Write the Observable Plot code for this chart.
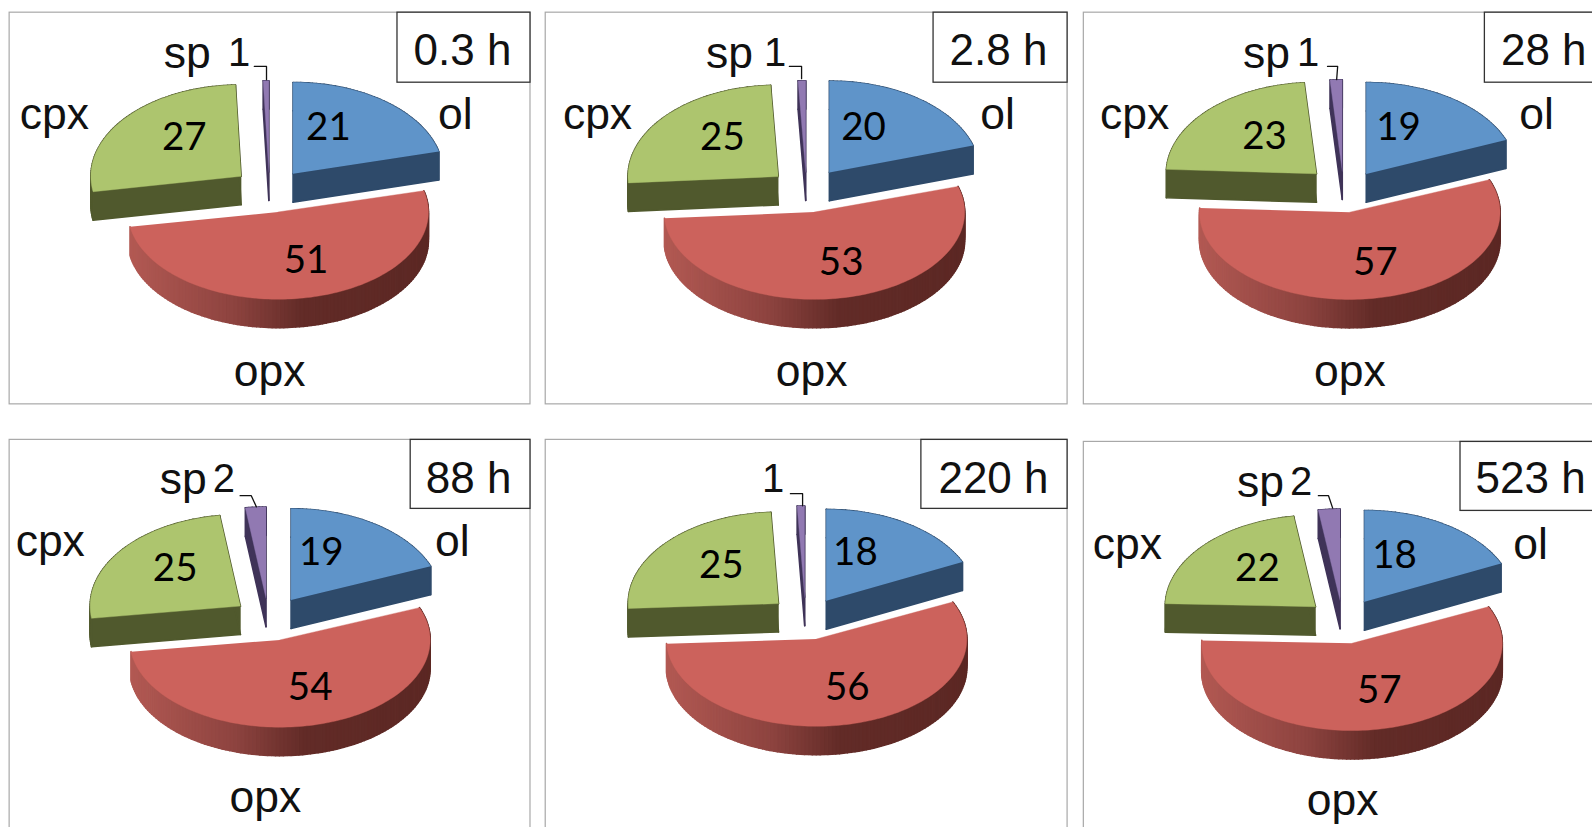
<!DOCTYPE html>
<html><head><meta charset="utf-8">
<script src="https://cdn.jsdelivr.net/npm/d3@7"></script>
<script src="https://cdn.jsdelivr.net/npm/@observablehq/plot@0.6"></script>
<style>html,body{margin:0;background:#fff}svg{display:block}</style>
</head><body><div id="chart"></div>
<script>
// ---- values
const times = ["0.3 h","2.8 h","28 h","88 h","220 h","523 h"];
const phases = ["ol","opx","cpx","sp"];
const ol  = [21,20,19,19,18,18];
const opx = [51,53,57,54,56,57];
const cpx = [27,25,23,25,25,22];
const sp  = [1,1,1,2,1,2];
// spinel shares before rounding, estimated from the width of the drawn slice
const spDrawn = [0.6,0.8,1.3,2.2,0.8,2.3];
const seriesValues = {ol,opx,cpx,sp};

// ---- layout (in 1568×815 reference units, mapped by Plot's scales)
const W=1568,H=815;
const frames=[[9,12,522,398],[537,12,1051,398],[1067,12,1570,398],[9,433,522,830],[537,433,1051,830],[1067,435,1570,830]];
const boxes=[[391,12,522,81],[919,12,1051,81],[1462,12,1570,81],[404,433,522,501],[907,433,1051,501],[1438,435,1570,503]];
const boxText=[[455,50],[983,50],[1520,50],[461,471],[978,471],[1507,471]];
const centers=[[266,192],[794,192],[1323,192],[265,613],[793,613],[1322,615]];
const rx=148,ry=90,depth=28,explode=36,opxRy=86;
const nudge={
 ol:[[0,-4],[1,-5],[2,-3],[1,-4],[1,-3],[2,-4]],
 opx:[[0,-5],[1,-5],[0,-5],[1,-4],[2,-5],[2,-3]],
 cpx:[[-1,-5],[-1,-4],[-1,-6],[0,-3],[0,-4],[0,-3]],
 sp:[[-1,-1],[0,-1],[0,-2],[-1,-2],[0,-3],[0,-2]]};
const namePos={ol:[[448,113],[982,113],[1513,113],[445,533],null,[1507,536]],
 cpx:[[53,113],[588,113],[1117,113],[49,533],null,[1110,536]],
 opx:[[265,366],[799,366],[1329,366],[261,786],null,[1322,789]],
 sp:[[184,52],[718,52],[1247,52],[180,472],null,[1241,475]]};
const valPos={ol:[[323,125],[850,125],[1377,125],[316,544],[842,544],[1373,547]],
 opx:[[301,256],[828,258],[1354,258],[305,677],[834,677],[1358,680]],
 cpx:[[181,135],[711,135],[1245,134],[172,560],[710,557],[1238,560]],
 sp:[[235,52],[763,52],[1288,52],[220,472],[761,472],[1281,475]]};
const leaders=[[[250,65],[262,65],[262,78]],[[777,65],[789,65],[789,77]],[[1307,65],[1317,65],[1316,78]],
 [[236,488],[247,488],[252,499]],[[778,486],[790,486],[790,498]],[[1298,488],[1308,488],[1312,500]]];
const topColor={ol:"#5f94c9",opx:"#cc625c",cpx:"#adc56e",sp:"#9179b2"};
const wallColor={ol:"#2e4a6a",cpx:"#50592d",sp:"#3f3358"};
const redWall=d3.scaleLinear().domain([0,.35,.58,1]).range(["#b25953","#8d433f","#622b27","#5c2824"]);

// ---- build slices with d3.pie from the values
const tops=[],walls=[];
times.forEach((t,i)=>{
  const vals=[ol[i],opx[i],cpx[i],spDrawn[i]];
  const arcs=d3.pie().sort(null)(vals);
  const [cx,cy]=centers[i];
  arcs.forEach((a,j)=>{
    const p=phases[j], id=i+"-"+p, mid=(a.startAngle+a.endAngle)/2;
    const yr=p==="opx"?opxRy:ry;
    const ax=cx+nudge[p][i][0]+explode*Math.sin(mid), ay=cy+nudge[p][i][1]-explode*(ry/rx)*Math.cos(mid);
    const n=Math.max(2,Math.ceil((a.endAngle-a.startAngle)/(Math.PI/120)));
    const rim=d3.range(n+1).map(k=>{const th=a.startAngle+(a.endAngle-a.startAngle)*k/n;
      return [ax+rx*Math.sin(th),ay-yr*Math.cos(th)];});
    const quad=(q,r,k,color)=>[[q[0],q[1]],[r[0],r[1]],[r[0],r[1]+depth],[q[0],q[1]+depth]]
       .forEach(pt=>walls.push({id:id+"-"+k,x:pt[0],y:pt[1],color}));
    const xs=rim.map(d=>d[0]), x0=d3.min(xs), x1=d3.max(xs);
    d3.pairs(rim).forEach(([q,r],k)=>quad(q,r,k,p==="opx"?redWall(((q[0]+r[0])/2-x0)/(x1-x0)):wallColor[p]));
    if(p!=="opx"){quad([ax,ay],rim[0],"a",wallColor[p]);quad([ax,ay],rim[n],"b",wallColor[p]);}
    [[ax,ay],...rim].forEach(pt=>tops.push({id,x:pt[0],y:pt[1],color:topColor[p]}));
  });
});
const names=[],values=[];
phases.forEach(p=>times.forEach((t,i)=>{
  if(namePos[p][i]) names.push({text:p,x:namePos[p][i][0],y:namePos[p][i][1]});
  values.push({text:String(seriesValues[p][i]),x:valPos[p][i][0],y:valPos[p][i][1],kind:p});
}));
const toRect=a=>a.map(([x1,y1,x2,y2])=>({x1,y1,x2,y2}));
const leaderRows=leaders.flatMap((l,i)=>l.map(([x,y])=>({i,x,y})));
const boxRows=toRect(boxes).map((b,i)=>({...b,t:times[i],cx:boxText[i][0],cy:boxText[i][1]}));

const fig=Plot.plot({
  width:1592,height:827,margin:0,
  x:{domain:[0,W],range:[0,1592],axis:null},
  y:{domain:[0,H],range:[0,827],axis:null},
  color:{type:"identity"},
  style:{background:"#fff"},
  marks:[
    Plot.rect(toRect(frames),{x1:"x1",x2:"x2",y1:"y1",y2:"y2",fill:"#fff",stroke:"#a8a8a8",strokeWidth:1.2}),
    Plot.line(walls,{x:"x",y:"y",z:"id",fill:"color",stroke:"color",strokeWidth:1.6,curve:"linear"}),
    Plot.line(tops,{x:"x",y:"y",z:"id",fill:"color",stroke:"color",strokeWidth:.4,curve:"linear"}),
    Plot.line(leaderRows,{x:"x",y:"y",z:"i",stroke:"#111",strokeWidth:1.3,curve:"linear"}),
    Plot.rect(boxRows,{x1:"x1",x2:"x2",y1:"y1",y2:"y2",fill:"#fff",stroke:"#333",strokeWidth:1.3}),
    Plot.text(boxRows,{x:"cx",y:"cy",text:"t",fontFamily:"Liberation Sans",fontSize:44,fill:"#111"}),
    Plot.text(names,{x:"x",y:"y",text:"text",fontFamily:"Liberation Sans",fontSize:44.5,fill:"#111"}),
    Plot.text(values.filter(d=>d.kind!=="sp"),{x:"x",y:"y",text:"text",fontFamily:"Lato",fontSize:38.5,fill:"#000"}),
    Plot.text(values.filter(d=>d.kind==="sp"),{x:"x",y:"y",text:"text",fontFamily:"Liberation Sans",fontSize:40,fill:"#111"})
  ]
});
document.getElementById("chart").append(fig);
</script></body></html>
